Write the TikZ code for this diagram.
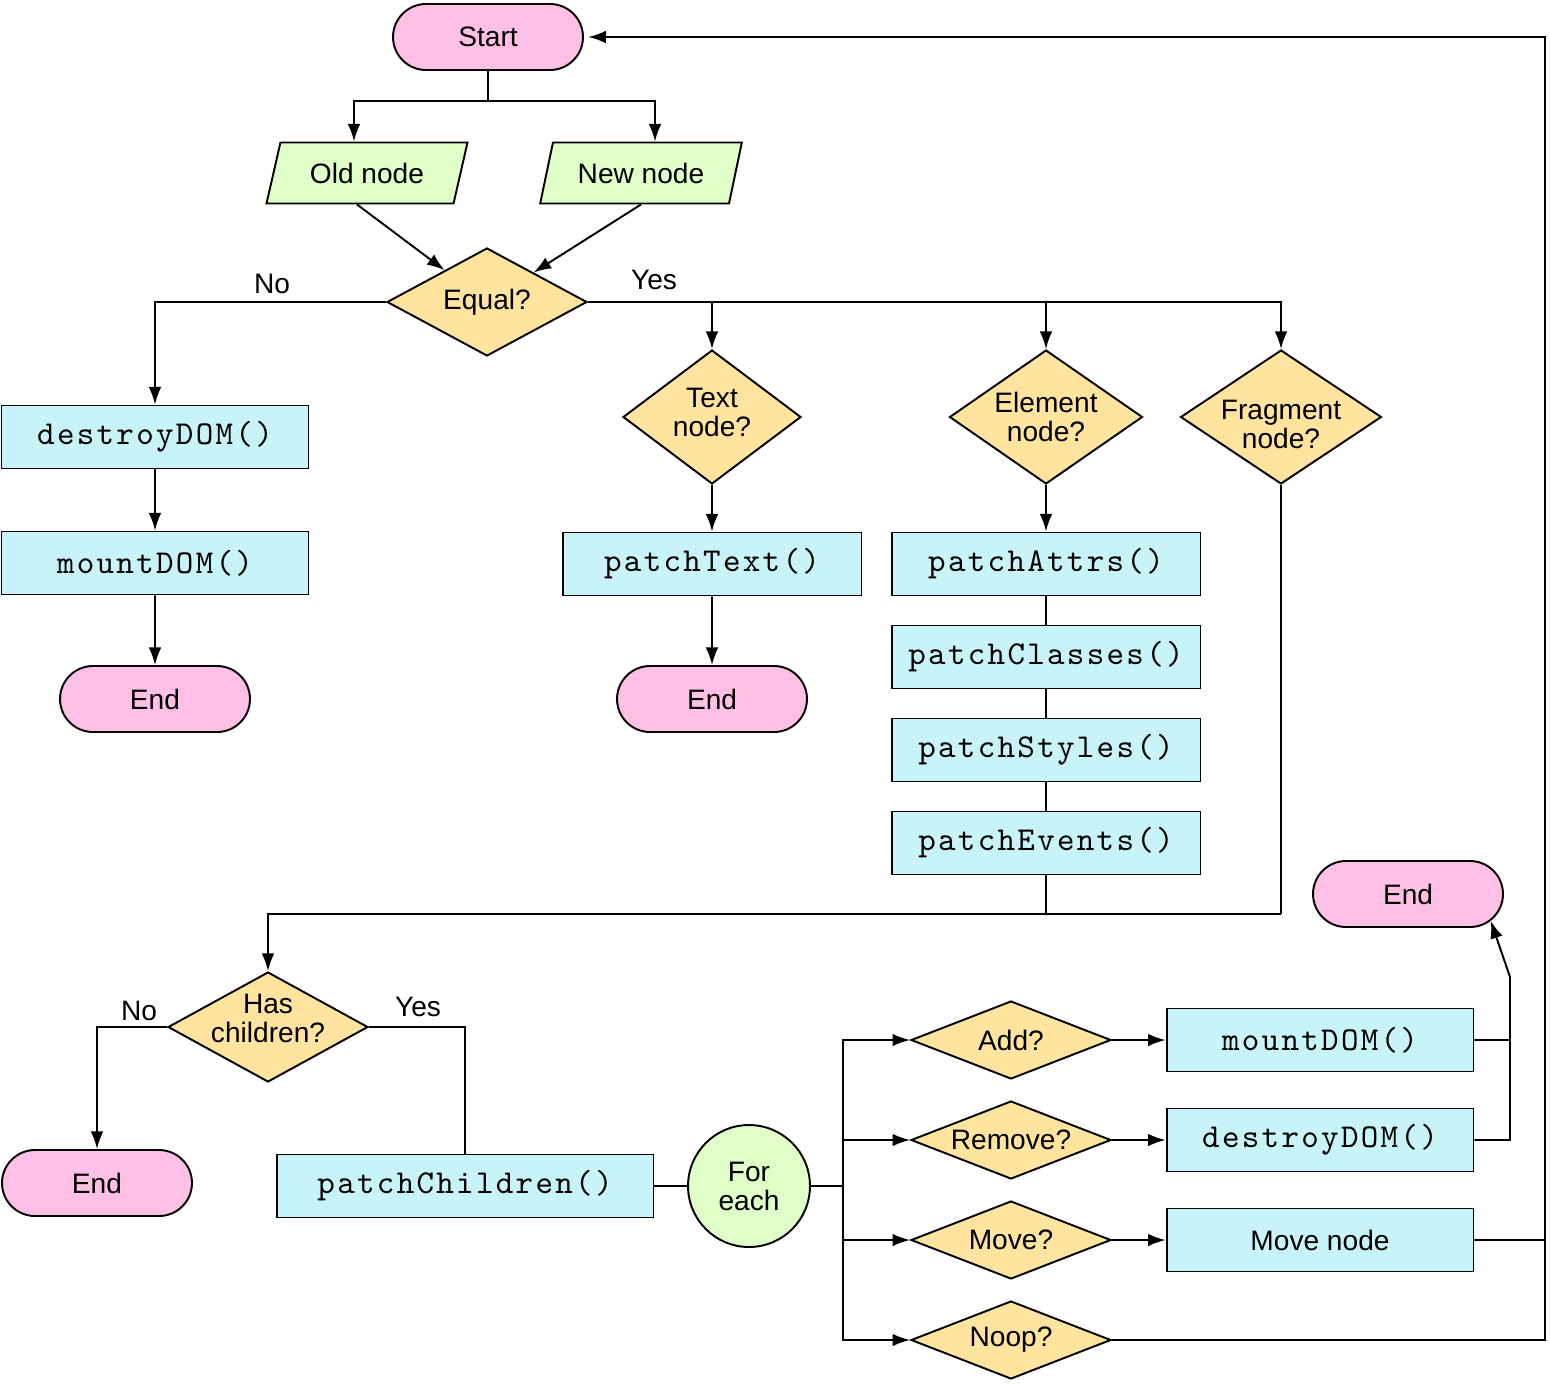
\documentclass[tikz,border=0pt]{standalone}
\usepackage{fontspec}
\setmainfont{Liberation Sans}
\newfontfamily\codefont[LetterSpace=6.9]{lmmono10-regular.otf}
\usetikzlibrary{shapes.geometric,shapes.misc,arrows.meta}

\definecolor{termpink}{RGB}{255,192,230}
\definecolor{iogreen}{RGB}{224,255,200}
\definecolor{askyellow}{RGB}{255,228,160}
\definecolor{proccyan}{RGB}{200,243,248}

\tikzset{
  base/.style={draw=black, line width=1.1pt, font=\fontsize{16}{16.5}\selectfont, align=center, inner sep=0pt},
  term/.style={base, rounded rectangle, fill=termpink, minimum width=3.8cm, minimum height=1.32cm},
  io/.style={base, trapezium, trapezium left angle=66, trapezium right angle=114, trapezium stretches=true, fill=iogreen, minimum width=4.04cm, minimum height=1.22cm},
  ask/.style={base, diamond, fill=askyellow},
  proc/.style={base, rectangle, fill=proccyan, minimum height=1.26cm, font=\fontsize{19}{20}\selectfont\codefont},
  loopnode/.style={base, circle, fill=iogreen, minimum size=2.44cm},
  line/.style={line width=1.1pt},
  arr/.style={line, -{Latex[length=10pt,width=7.2pt]}},
  lbl/.style={font=\fontsize{16}{16.5}\selectfont, align=center}
}

\begin{document}
\begin{tikzpicture}[x=0.02cm, y=-0.02cm]
\useasboundingbox (0,0) rectangle (1550,1383);

\node[term] (start) at (488,37) {Start};
\node[io] (old) at (367,173) {Old node};
\node[io] (new) at (641,173) {New node};
\node[ask, shape aspect=1.85, minimum width=4cm, minimum height=2.16cm] (equal) at (487,302) {Equal?};

\node[proc, minimum width=6.14cm] (destroyA) at (155,437) {destroyDOM()};
\node[proc, minimum width=6.14cm] (mountA) at (155,563) {mountDOM()};
\node[term] (endA) at (155,699) {End};

\node[ask, minimum width=3.56cm, minimum height=2.68cm,
  label={[lbl, yshift=0.1cm]center:Text\\node?}] (textq) at (712,417) {};
\node[ask, shape aspect=1.44, minimum width=3.86cm, minimum height=2.68cm] (elemq) at (1046,417) {Element\\node?};
\node[ask, minimum width=4.02cm, minimum height=2.68cm,
  label={[lbl, yshift=-0.15cm]center:Fragment\\node?}] (fragq) at (1281,417) {};

\node[proc, minimum width=5.98cm] (ptext) at (712,564) {patchText()};
\node[term] (endB) at (712,699) {End};

\node[proc, minimum width=6.18cm] (pattrs) at (1046,564) {patchAttrs()};
\node[proc, minimum width=6.18cm] (pclasses) at (1046,657) {patchClasses()};
\node[proc, minimum width=6.18cm] (pstyles) at (1046,750) {patchStyles()};
\node[proc, minimum width=6.18cm] (pevents) at (1046,843) {patchEvents()};

\node[ask, minimum width=4cm, minimum height=2.2cm,
  label={[lbl, yshift=0.17cm]center:Has\\children?}] (hasq) at (268,1027) {};
\node[term] (endC) at (97,1183) {End};
\node[proc, minimum width=7.54cm] (pchildren) at (465,1186) {patchChildren()};
\node[loopnode] (foreach) at (749,1186) {For\\each};

\node[ask, shape aspect=2.56, minimum width=4cm, minimum height=1.56cm] (addq) at (1011,1040) {Add?};
\node[ask, shape aspect=2.56, minimum width=4cm, minimum height=1.56cm] (removeq) at (1011,1140) {Remove?};
\node[ask, shape aspect=2.56, minimum width=4cm, minimum height=1.56cm] (moveq) at (1011,1240) {Move?};
\node[ask, shape aspect=2.56, minimum width=4cm, minimum height=1.56cm] (noopq) at (1011,1340) {Noop?};

\node[proc, minimum width=6.14cm] (mountB) at (1320,1040) {mountDOM()};
\node[proc, minimum width=6.14cm] (destroyB) at (1320,1140) {destroyDOM()};
\node[proc, minimum width=6.14cm, font=\fontsize{16}{16.5}\selectfont] (movenode) at (1320,1240) {Move node};
\node[term] (endD) at (1408,894) {End};

\node[lbl] (noA) at (272,284) {No};
\node[lbl] (yesA) at (654,280) {Yes};
\node[lbl] (noB) at (139,1011) {No};
\node[lbl] (yesB) at (418,1007) {Yes};

\coordinate (split) at (488,101);
\draw[line] (start.south) -- (split);
\draw[arr] (split) -| ([xshift=-0.26cm]old.north);
\draw[arr] (split) -| ([xshift=0.28cm]new.north);
\draw[arr] ([xshift=-0.2cm]old.south) -- (equal);
\draw[arr] (new.south) -- (equal);

\draw[arr] (equal.west) -| (destroyA.north);
\draw[arr] (destroyA) -- (mountA);
\draw[arr] (mountA) -- (endA);

\draw[arr] (equal.east) -| (fragq.north);
\draw[arr] (equal.east -| textq.north) -- (textq.north);
\draw[arr] (equal.east -| elemq.north) -- (elemq.north);
\draw[arr] (textq) -- (ptext);
\draw[arr] (ptext) -- (endB);
\draw[arr] (elemq) -- (pattrs);
\draw[line] (pattrs) -- (pclasses);
\draw[line] (pclasses) -- (pstyles);
\draw[line] (pstyles) -- (pevents);

\coordinate (merge) at (1281,914);
\draw[line] (fragq.south) -- (merge);
\draw[line] (pevents.south) -- (pevents.south |- merge);
\draw[arr] (merge) -| (hasq.north);
\draw[arr] (hasq.west) -| (endC.north);
\draw[line] (hasq.east) -| (pchildren.north);
\draw[line] (pchildren) -- (foreach);

\coordinate (fork) at (843,1186);
\draw[line] (foreach) -- (fork);
\draw[arr] (fork) |- (addq.west);
\draw[arr] (fork) |- (removeq.west);
\draw[arr] (fork) |- (moveq.west);
\draw[arr] (fork) |- (noopq.west);
\draw[arr] (addq) -- (mountB);
\draw[arr] (removeq) -- (destroyB);
\draw[arr] (moveq) -- (movenode);

\coordinate (rise) at (1510,977);
\draw[line] (mountB.east) -- (mountB.east -| rise);
\draw[arr] (destroyB.east) -| (rise) -- (endD.-18);

\coordinate (back) at (1545,37);
\draw[line] (movenode.east) -- (movenode.east -| back);
\draw[arr, shorten >=2.5pt] (noopq.east) -| (back) -- (start.east);

\end{tikzpicture}
\end{document}
